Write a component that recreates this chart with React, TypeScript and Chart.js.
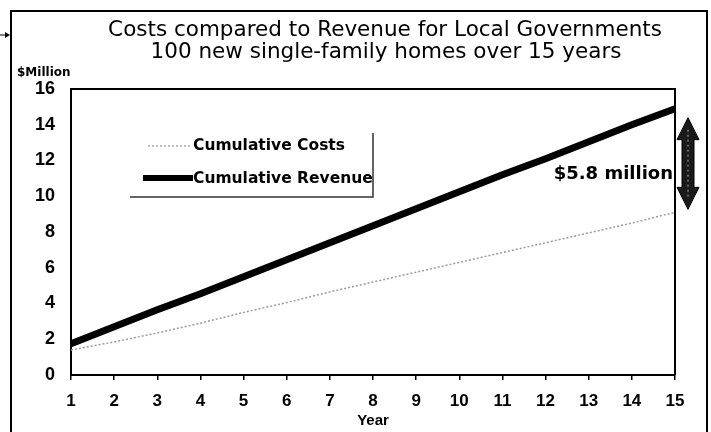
import React, { useEffect, useRef } from "react";
import { Chart, registerables } from "chart.js";

Chart.register(...registerables);

const years = ["1","2","3","4","5","6","7","8","9","10","11","12","13","14","15"];
const cumulativeRevenue = [1.75, 2.7, 3.65, 4.55, 5.5, 6.45, 7.4, 8.35, 9.3, 10.25, 11.2, 12.1, 13.05, 14.0, 14.9];
const cumulativeCosts = [1.4, 1.85, 2.35, 2.9, 3.5, 4.05, 4.65, 5.2, 5.75, 6.3, 6.85, 7.4, 7.95, 8.5, 9.1];
const titleLines = ["Costs compared to Revenue for Local Governments", "100 new single-family homes over 15 years"];
const yUnitLabel = "$Million";
const xAxisLabel = "Year";
const gapLabel = "$5.8 million";
const seriesNames = ["Cumulative Costs", "Cumulative Revenue"];

const FONT = "'DejaVu Sans', Verdana, sans-serif";
const TICKFONT = "'Liberation Sans', Arial, sans-serif";

const decorPlugin = {
  id: "decor",
  afterDraw(chart: any) {
    const ctx = chart.ctx as CanvasRenderingContext2D;
    const area = chart.chartArea;
    const y = chart.scales.y;
    ctx.save();
    // outer frame
    ctx.strokeStyle = "#000";
    ctx.lineWidth = 2;
    ctx.beginPath();
    ctx.moveTo(11, 440);
    ctx.lineTo(11, 11);
    ctx.lineTo(707, 11);
    ctx.lineTo(707, 440);
    ctx.stroke();
    // small pointer arrow on left
    ctx.lineWidth = 1;
    ctx.beginPath();
    ctx.moveTo(0, 35);
    ctx.lineTo(8, 35);
    ctx.stroke();
    ctx.beginPath();
    ctx.moveTo(10, 35);
    ctx.lineTo(5, 32);
    ctx.lineTo(5, 38);
    ctx.closePath();
    ctx.fillStyle = "#000";
    ctx.fill();

    // plot box top & right
    ctx.lineWidth = 2;
    ctx.beginPath();
    ctx.moveTo(area.left, area.top);
    ctx.lineTo(area.right, area.top);
    ctx.lineTo(area.right, area.bottom);
    ctx.stroke();

    // title
    ctx.fillStyle = "#000";
    ctx.textAlign = "center";
    ctx.textBaseline = "middle";
    ctx.font = `21.5px ${FONT}`;
    ctx.fillText(titleLines[0], 385, 30);
    ctx.fillText(titleLines[1], 386, 52);

    // $Million
    ctx.textAlign = "left";
    ctx.font = `bold 12px ${FONT}`;
    ctx.fillText(yUnitLabel, 17, 73);

    // legend
    const lx = 193;
    ctx.font = `bold 15.5px ${FONT}`;
    ctx.textAlign = "left";
    ctx.fillText(seriesNames[0], lx, 146);
    ctx.fillText(seriesNames[1], lx, 179);
    ctx.strokeStyle = "#aaaaaa";
    ctx.lineWidth = 1.5;
    ctx.setLineDash([2, 2]);
    ctx.beginPath();
    ctx.moveTo(148, 146);
    ctx.lineTo(192, 146);
    ctx.stroke();
    ctx.setLineDash([]);
    ctx.strokeStyle = "#000";
    ctx.lineWidth = 6;
    ctx.beginPath();
    ctx.moveTo(143, 178);
    ctx.lineTo(193, 178);
    ctx.stroke();
    // legend box edges (right and bottom)
    ctx.lineWidth = 1.5;
    ctx.strokeStyle = "#333";
    ctx.beginPath();
    ctx.moveTo(373, 133);
    ctx.lineTo(373, 197);
    ctx.lineTo(130, 197);
    ctx.stroke();

    // gap label
    ctx.fillStyle = "#000";
    ctx.font = `bold 18px ${FONT}`;
    ctx.textAlign = "right";
    ctx.fillText(gapLabel, 673, 174);

    // double-headed arrow
    const n = cumulativeRevenue.length - 1;
    const yTop = y.getPixelForValue(cumulativeRevenue[n]) + 9;
    const yBot = y.getPixelForValue(cumulativeCosts[n]) - 3;
    const cx = 688;
    const hw = 11;
    const sw = 6;
    const hh = 22;
    ctx.beginPath();
    ctx.moveTo(cx, yTop);
    ctx.lineTo(cx + hw, yTop + hh);
    ctx.lineTo(cx + sw, yTop + hh);
    ctx.lineTo(cx + sw, yBot - hh);
    ctx.lineTo(cx + hw, yBot - hh);
    ctx.lineTo(cx, yBot);
    ctx.lineTo(cx - hw, yBot - hh);
    ctx.lineTo(cx - sw, yBot - hh);
    ctx.lineTo(cx - sw, yTop + hh);
    ctx.lineTo(cx - hw, yTop + hh);
    ctx.closePath();
    ctx.fillStyle = "#1a1a1a";
    ctx.fill();
    ctx.strokeStyle = "#000";
    ctx.lineWidth = 1;
    ctx.stroke();
    ctx.strokeStyle = "#aaa";
    ctx.setLineDash([2, 3]);
    ctx.beginPath();
    ctx.moveTo(cx, yTop + 12);
    ctx.lineTo(cx, yBot - 12);
    ctx.stroke();
    ctx.setLineDash([]);
    ctx.restore();
  },
};

export default function App() {
  const ref = useRef<HTMLCanvasElement>(null);
  useEffect(() => {
    if (!ref.current) return;
    const chart = new Chart(ref.current, {
      type: "line",
      data: {
        labels: years,
        datasets: [
          {
            label: seriesNames[0],
            data: cumulativeCosts,
            borderColor: "#9a9a9a",
            borderWidth: 1.5,
            borderDash: [2, 2],
            pointRadius: 0,
            tension: 0,
            fill: false,
          },
          {
            label: seriesNames[1],
            data: cumulativeRevenue,
            borderColor: "#000",
            borderWidth: 7,
            pointRadius: 0,
            tension: 0,
            fill: false,
          },
        ],
      },
      options: {
        animation: false,
        responsive: false,
        maintainAspectRatio: false,
        layout: { padding: { left: 12, right: 36, top: 89, bottom: 0 } },
        plugins: {
          legend: { display: false },
          title: { display: false },
          tooltip: { enabled: false },
        },
        scales: {
          x: {
            type: "category",
            offset: false,
            grid: {
              display: true,
              drawOnChartArea: false,
              drawTicks: true,
              tickLength: 5,
              color: "#000",
              lineWidth: 1.5,
            },
            border: { display: true, color: "#000", width: 2 },
            ticks: {
              color: "#000",
              font: { family: TICKFONT, size: 17, weight: "bold" },
              padding: 11,
              maxRotation: 0,
              autoSkip: false,
            },
            title: {
              display: true,
              text: xAxisLabel,
              color: "#000",
              font: { family: TICKFONT, size: 15, weight: "bold" },
              padding: { top: 0, bottom: 2 },
            },
            afterFit: (scale: any) => {
              scale.height = 57;
            },
          },
          y: {
            min: 0,
            max: 16,
            grid: {
              display: true,
              drawOnChartArea: false,
              drawTicks: false,
              color: "#000",
            },
            border: { display: true, color: "#000", width: 2 },
            ticks: {
              stepSize: 2,
              color: "#000",
              font: { family: TICKFONT, size: 18, weight: "bold" },
              padding: 16,
            },
            afterFit: (scale: any) => {
              scale.width = 59;
            },
          },
        },
      },
      plugins: [decorPlugin],
    });
    return () => chart.destroy();
  }, []);
  return (
    <div style={{ position: "fixed", left: 0, top: 0, width: 711, height: 432, background: "#fff" }}>
      <canvas ref={ref} width={711} height={432} style={{ width: 711, height: 432 }} />
    </div>
  );
}
